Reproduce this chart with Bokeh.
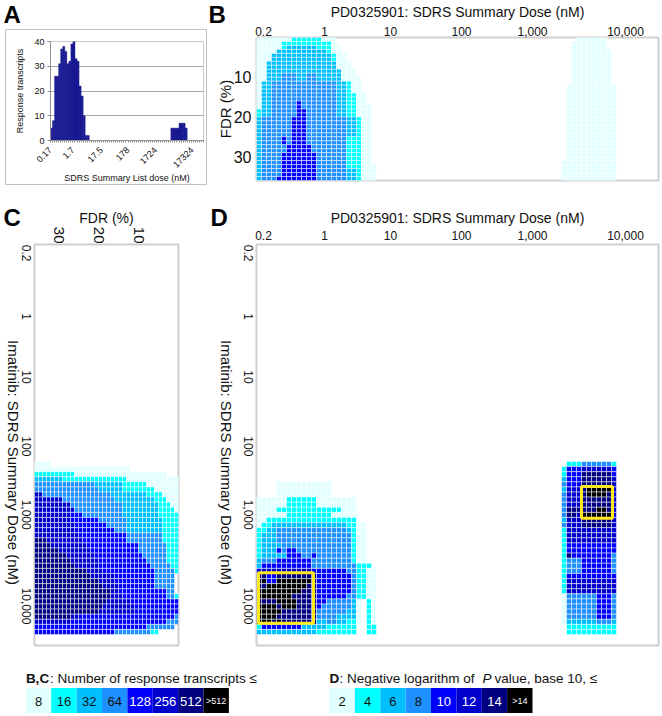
from math import pi
from bokeh.embed import file_html
from bokeh.resources import INLINE
from bokeh.plotting import figure
from bokeh.layouts import column, row
from bokeh.models import Range1d, FixedTicker, ColumnDataSource
from bokeh.core.properties import value

FONT = "Liberation Sans"

# ---------- data ----------
PALETTE = ["#E0FFFF", "#00FFFF", "#00BFFF", "#1E90FF", "#0000FF", "#0000CD", "#000080", "#000000"]
LEGEND_BC = ["8", "16", "32", "64", "128", "256", "512", ">512"]
LEGEND_D = ["2", "4", "6", "8", "10", "12", "14", ">14"]

DOSE_LABELS = ["0.2", "1", "10", "100", "1,000", "10,000"]
DOSE_TICKS = [1.4, 13.6, 26.8, 41, 55.2, 73.8]
DOSE_TICKS_Y = [4.7, 16.2, 28.7, 43.0, 57.4, 76.0]
FDR_TICKS = [10, 20, 30]

A_COUNTS = [5, 8, 26, 26, 31, 37, 38, 36, 31, 32, 39, 40, 33, 32, 22, 18, 10, 2, 2] + [0] * 40 + \
           [5, 5, 5, 5, 7, 7, 7, 5] + [0] * 8
A_TICKS = [0, 11, 25, 38, 51.5, 69.5]
A_LABELS = ["0.17", "1.7", "17.5", "178", "1724", "17324"]

# run-length rows: "level*count"; level 0 means no cell
B_LEFT = [
    "1*7 2*6 1*3",
    "1*5 2*10 1*1",
    "1*5 2*1 3*6 2*3 1*2",
    "1*4 3*10 2*1 1*2",
    "1*3 3*12 2*1 1*2",
    "1*3 3*12 2*1 1*2",
    "1*2 3*14 1*3",
    "1*2 3*14 1*3",
    "1*2 3*15 1*3",
    "1*2 3*3 4*3 3*2 4*2 3*5 1*3",
    "1*2 3*3 4*3 3*2 4*2 3*5 1*4",
    "1*1 3*2 4*13 3*2 2*1 1*2",
    "1*1 3*2 4*13 3*2 2*1 1*2",
    "1*1 3*2 4*13 3*2 2*1 1*2",
    "1*1 3*2 4*13 3*2 2*2 1*2",
    "1*1 3*2 4*13 3*2 2*2 1*2",
    "1*1 3*2 4*5 5*1 4*7 3*2 2*2 1*2",
    "1*1 3*2 4*5 5*1 4*7 3*2 2*2 1*3",
    "2*1 3*2 4*5 5*2 4*6 3*2 2*2 1*3",
    "2*1 3*2 4*5 5*2 4*6 3*2 2*2 1*3",
    "3*1 4*6 5*3 4*8 3*2 2*1 1*2",
    "3*1 4*6 5*3 4*8 3*2 2*1 1*2",
    "3*1 4*6 5*3 4*8 3*2 2*1 1*2",
    "3*1 4*6 5*3 4*8 3*2 2*1 1*2",
    "3*1 4*6 5*3 4*8 3*2 2*1 1*2",
    "3*1 4*4 5*1 4*1 5*3 4*8 2*3 1*2",
    "3*1 4*4 5*1 4*1 5*3 4*8 2*3 1*2",
    "3*1 4*5 5*5 4*7 2*3 1*2",
    "3*1 4*5 5*5 4*7 2*3 1*2",
    "3*1 4*4 5*7 4*6 2*3 1*2",
    "3*1 4*4 5*7 4*6 2*3 1*2",
    "3*1 4*4 5*7 4*6 2*3 1*2",
    "3*1 4*4 5*7 4*6 2*3 1*3",
    "3*1 4*4 5*7 4*6 3*2 2*1 1*3",
    "3*1 4*4 5*7 4*6 3*2 2*1 1*3",
    "3*1 4*3 5*8 4*6 3*2 2*1 1*3",
]
B_RIGHT_FIRST_COL = 61
B_RIGHT = (["0*3 1*6"] + ["0*2 1*7"] * 2 + ["0*2 1*8"] * 9 + ["0*1 1*10"] * 19 + ["1*11"] * 5)

C_FIRST_ROW = 44
C_ROWS = [
    "1*4",
    "1*24",
    "2*10 1*23",
    "3*7 2*16 1*13",
    "4*15 3*7 2*6 1*8",
    "4*16 3*6 2*8 1*6",
    "6*2 4*17 3*9 2*4 1*4",
    "6*7 4*13 3*10 2*3 1*3",
    "6*9 4*13 3*9 2*3 1*2",
    "6*10 4*12 3*9 2*4 1*1",
    "6*9 5*3 4*10 3*9 2*5",
    "6*9 5*7 4*7 3*9 2*4",
    "6*10 5*8 4*5 3*9 2*4",
    "6*10 5*10 4*3 3*9 2*4",
    "6*11 5*12 4*9 2*4",
    "7*3 6*9 5*11 4*9 2*4",
    "7*4 6*9 5*13 4*7 2*3",
    "7*6 6*8 5*12 4*7 2*3",
    "7*8 6*7 5*12 4*6 2*3",
    "7*9 6*7 5*12 4*5 2*3",
    "7*10 6*6 5*13 4*5 2*2",
    "7*13 6*4 5*13 4*5 2*1",
    "7*14 6*6 5*10 4*5",
    "7*16 6*4 5*10 4*5",
    "7*17 6*4 5*9 4*5",
    "7*19 6*2 5*12 4*2",
    "7*19 6*3 5*11 4*2 2*1",
    "7*18 6*6 5*12",
    "7*17 6*8 5*11",
    "7*16 6*9 5*11",
    "7*9 6*2 5*24 4*1",
    "6*9 5*24 4*3",
    "5*28 4*7",
    "5*20 4*9 2*2",
]

D_LEFT_FIRST_ROW = 48
D_LEFT = [
    "0*4 1*11",
    "0*4 1*11",
    "0*4 1*11",
    "1*6 2*6 1*8",
    "1*6 2*6 1*8",
    "1*4 2*13 1*3",
    "1*6 2*9 1*5",
    "1*2 2*18",
    "1*1 2*2 3*15 2*2 1*2",
    "2*2 3*2 4*14 3*1 2*1 1*2",
    "2*1 3*3 4*15 2*1 1*2",
    "2*1 3*3 4*15 2*1 1*2",
    "2*1 3*4 4*14 2*1 1*2",
    "2*1 3*3 5*1 4*1 5*2 4*11 2*1 1*2",
    "2*1 3*5 5*3 4*2 5*1 4*7 2*1 1*2",
    "3*1 4*3 5*7 4*8 2*1 1*2",
    "3*1 5*10 4*9 2*3",
    "5*1 6*10 5*7 4*2 2*2 1*2",
    "7*2 5*2 7*8 5*7 4*1 2*2 1*2",
    "7*1 8*1 5*2 8*7 7*1 5*7 4*1 2*2 1*2",
    "7*2 8*8 7*2 5*7 4*1 2*2 1*2",
    "8*9 7*3 5*7 4*1 2*2 1*2",
    "8*7 7*5 5*6 4*2 2*2 1*2",
    "7*4 8*4 7*4 5*2 4*5 3*1 1*1 0*1 2*1 1*1",
    "8*4 7*1 8*3 7*4 5*1 4*6 3*1 1*1 0*1 2*1 1*1",
    "8*5 7*7 4*6 3*2 1*1 0*1 2*1 1*1",
    "8*4 7*8 4*4 3*4 1*1 0*1 2*1 1*1",
    "8*3 7*1 8*1 7*7 3*2 4*2 3*2 2*2 1*1 0*1 2*1 1*1",
    "2*1 5*8 3*5 2*6 0*2 2*2",
    "3*12 2*8 0*2 2*2",
]
D_RIGHT_FIRST_ROW = 44
D_RIGHT_FIRST_COL = 61
D_RIGHT = [
    "0*1 2*3 4*6 2*1",
    "2*1 5*3 6*6 5*1",
    "2*1 5*3 7*6 5*1",
    "3*1 5*3 7*6 6*1",
    "4*1 5*3 7*6 6*1",
    "3*1 6*3 7*1 8*5 6*1",
    "4*1 6*3 7*1 8*4 7*1 6*1",
    "4*1 6*3 7*6 6*1",
    "4*1 6*3 7*6 6*1",
    "4*1 7*6 8*2 7*1 6*1",
    "4*1 7*2 6*1 8*6 6*1",
    "3*1 6*3 7*6 6*1",
    "4*1 6*3 7*6 6*1",
    "2*1 6*10",
    "2*1 6*10",
    "2*1 6*10",
    "2*1 5*10",
    "2*1 5*10",
    "2*1 7*1 5*8 4*1",
    "2*1 4*3 5*6 4*1",
    "2*1 4*3 5*6 4*1",
    "2*1 4*3 5*6 4*1",
    "2*1 5*10",
    "2*1 6*10",
    "2*1 6*10",
    "2*1 6*10",
    "1*1 4*6 5*3 4*1",
    "1*1 4*6 5*3 4*1",
    "1*1 4*6 5*3 4*1",
    "1*1 4*6 5*3 4*1",
    "1*1 4*6 5*3 4*1",
    "1*1 3*6 4*3 3*1",
    "0*1 2*10",
    "0*1 2*10",
]
# highlighted dose windows in panel D (left, right, top, bottom, in grid units)
HIGHLIGHT_L = [0.4, 65.0]
HIGHLIGHT_R = [11.4, 71.2]
HIGHLIGHT_T = [65.87, 48.9]
HIGHLIGHT_B = [75.77, 55.14]


def expand(r):
    out = []
    for tok in r.split():
        lv, n = tok.split("*")
        out += [int(lv)] * int(n)
    return out


def cells(rows, first_row=0, first_col=0):
    l, r, t, b, c = [], [], [], [], []
    for i, row_ in enumerate(rows):
        for j, lv in enumerate(expand(row_)):
            if lv:
                l.append(first_col + j); r.append(first_col + j + 1)
                t.append(first_row + i); b.append(first_row + i + 1)
                c.append(PALETTE[lv - 1])
    return dict(l=l, r=r, t=t, b=b, c=c)


def merged(*ds):
    return {k: sum((d[k] for d in ds), []) for k in ds[0]}


def draw(p, d, flip=False):
    if flip:
        d = dict(d, l=[36 - v for v in d["l"]], r=[36 - v for v in d["r"]])
    p.quad(left="l", right="r", top="t", bottom="b", fill_color="c",
           line_color="white", line_width=1, line_alpha=0.5, source=ColumnDataSource(d))


def base(width, height, left, right, top, bottom, xr, yr, xloc=None):
    p = figure(width=width, height=height, x_range=xr, y_range=yr, output_backend="svg",
               toolbar_location=None, tools="", min_border_left=left, min_border_right=right,
               min_border_top=top, min_border_bottom=bottom, x_axis_location=xloc,
               background_fill_color="white", border_fill_color="white", frame_align=False)
    p.grid.visible = False
    p.outline_line_color = "#cfcfcf"
    p.outline_line_width = 2
    return p


def style_axis(ax, ticks, labels, size, title=None, title_size="14px", title_standoff=4, standoff=3, orient=None):
    ax.ticker = FixedTicker(ticks=list(ticks))
    ax.major_label_overrides = {t: l for t, l in zip(ticks, labels)}
    ax.major_tick_line_color = None
    ax.minor_tick_line_color = None
    ax.axis_line_color = None
    ax.major_label_text_font = FONT
    ax.major_label_text_font_size = size
    ax.major_label_text_color = "#111111"
    ax.major_label_standoff = standoff
    ax.axis_label = title
    ax.axis_label_text_font = FONT
    ax.axis_label_text_font_style = "normal"
    ax.axis_label_text_font_size = title_size
    ax.axis_label_text_color = "#111111"
    ax.axis_label_standoff = title_standoff
    if orient is not None:
        ax.major_label_orientation = orient


PAGE_H = 716


def overlay(x, y, w, h, outline=None):
    """a transparent figure floating over the page at (x, y)"""
    p = figure(width=w, height=h, x_range=Range1d(0, w), y_range=Range1d(h, 0), output_backend="svg",
               toolbar_location=None, tools="", min_border=0, x_axis_location=None, y_axis_location=None,
               background_fill_alpha=0, border_fill_alpha=0, frame_align=False,
               margin=(y - PAGE_H, 0, PAGE_H - y - h, x))
    p.grid.visible = False
    p.outline_line_color = outline
    return p


def letter(t, x, cy):
    p = overlay(x - 2, cy - 18, 36, 36)
    p.text(x=[2], y=[18], text=[t], text_align="left", text_baseline="middle",
           text_font=value(FONT), text_font_size="24px", text_font_style="bold", text_color="#000000")
    return p


def vtitle(t, cx, cy, size):
    p = overlay(cx - 15, cy - 145, 30, 290)
    p.text(x=[15], y=[145], text=[t], angle=-pi / 2, text_align="center", text_baseline="middle",
           text_font=value(FONT), text_font_size=size, text_color="#111111")
    return p


TITLE = "PD0325901: SDRS Summary Dose (nM)"
YTITLE = "Imatinib: SDRS Summary Dose (nM)"

# ---------- A ----------
a = base(208, 190, 50, 5, 41, 50, Range1d(0, 75), Range1d(0, 40), "below")
a.outline_line_color = "#c8c8c8"
a.outline_line_width = 1
a.ygrid.visible = True
a.ygrid.grid_line_color = "#a8a8a8"
a.ygrid.ticker = FixedTicker(ticks=[10, 20, 30, 40])
a.vbar(x=[i + 0.5 for i in range(len(A_COUNTS))], top=A_COUNTS, width=1, fill_color="#1f1f9e",
       line_color="#000070", line_width=0.5, line_alpha=0.8)
ax = a.xaxis[0]
style_axis(ax, A_TICKS, A_LABELS, "9px", "SDRS Summary List dose (nM)", "9px", 0, 2, pi / 4)
ax.ticker = FixedTicker(ticks=A_TICKS, minor_ticks=list(range(0, 76)))
ax.axis_line_color = "#909090"
ax.minor_tick_line_color = "#909090"
ax.minor_tick_in = 0
ax.minor_tick_out = 2
ay = a.yaxis[0]
style_axis(ay, [0, 10, 20, 30, 40], ["0", "10", "20", "30", "40"], "9px", "Response transcripts", "9px", 6, 3)
ay.major_tick_line_color = "#909090"
ay.major_tick_in = 0
ay.major_tick_out = 3
ay.axis_line_color = "#909090"

# ---------- B ----------
b = base(454, 190, 48, 4, 36, 10, Range1d(0, 80.4), Range1d(36, 0), "above")
draw(b, merged(cells(B_LEFT), cells(B_RIGHT, 0, B_RIGHT_FIRST_COL)))
style_axis(b.xaxis[0], DOSE_TICKS, DOSE_LABELS, "12px", TITLE, "14px", 4, -4)
style_axis(b.yaxis[0], FDR_TICKS, [str(v) for v in FDR_TICKS], "16px", "FDR (%)", "15px", -3, -1)

# ---------- C ----------
c = base(208, 460, 34, 30, 54, 5, Range1d(36, 0), Range1d(80.15, 1.37), "above")
draw(c, cells(C_ROWS, C_FIRST_ROW), flip=True)
style_axis(c.xaxis[0], FDR_TICKS, [str(v) for v in FDR_TICKS], "15px", "FDR (%)", "14px", -2, -5, -pi / 2)
style_axis(c.yaxis[0], DOSE_TICKS_Y, DOSE_LABELS, "12px", None, "14px", 0, 2, -pi / 2)

# ---------- D ----------
d = base(454, 460, 48, 4, 54, 5, Range1d(0, 80.4), Range1d(80.15, 1.37), "above")
draw(d, merged(cells(D_LEFT, D_LEFT_FIRST_ROW), cells(D_RIGHT, D_RIGHT_FIRST_ROW, D_RIGHT_FIRST_COL)))
d.quad(left=HIGHLIGHT_L, right=HIGHLIGHT_R, top=HIGHLIGHT_T, bottom=HIGHLIGHT_B, fill_alpha=0,
       line_color="#FFE81F", line_width=3)
style_axis(d.xaxis[0], DOSE_TICKS, DOSE_LABELS, "12px", TITLE, "14px", 2, -1)
style_axis(d.yaxis[0], DOSE_TICKS_Y, DOSE_LABELS, "12px", None, "14px", 0, 2, -pi / 2)


# ---------- legends ----------
CELL_W = 25.375
CELL_H = 25.1


def legend(width, left, labels, captions):
    p = figure(width=width, height=66, x_range=Range1d(-left / CELL_W, (width - left) / CELL_W),
               y_range=Range1d(-3.4 / CELL_H, 62.6 / CELL_H), output_backend="svg", frame_align=False,
               toolbar_location=None, tools="", min_border=0, x_axis_location=None, y_axis_location=None)
    p.grid.visible = False
    p.outline_line_color = None
    xs = list(range(8))
    p.quad(left=xs, right=[v + 1 for v in xs], bottom=0, top=1, fill_color=PALETTE, line_color=None)
    cols = ["#111111"] * 4 + ["white"] * 4
    big = xs[:7]
    p.text(x=[i + 0.5 for i in big], y=[0.48] * 7, text=[labels[i] for i in big],
           text_color=[cols[i] for i in big], text_align="center", text_baseline="middle",
           text_font=value(FONT), text_font_size="13px")
    p.text(x=[7.5], y=[0.5], text=[labels[7]], text_color=["white"], text_align="center", text_baseline="middle",
           text_font=value(FONT), text_font_size="9px")
    pos = 0.0
    for t, style, w in captions:
        p.text(x=[pos / CELL_W], y=[1.38], text=[t], text_align="left", text_baseline="alphabetic",
               text_font=value(FONT), text_font_size="13.5px", text_font_style=style, text_color="#111111")
        pos += w
    return p


l1 = legend(300, 25.375, LEGEND_BC, [("B,C", "bold", 24), (": Number of response transcripts ≤", "normal", 0)])
l2 = legend(362, 29, LEGEND_D, [("D", "bold", 10), (": Negative logarithm of", "normal", 143), ("P", "italic", 12),
                                ("value, base 10, ≤", "normal", 0)])

box_a = overlay(5, 29, 202, 156, outline="#c0c0c0")

page = column(
    row(a, b, spacing=0), row(c, d, spacing=0), row(l1, l2, spacing=0),
    box_a,
    letter("A", 3, 14),
    letter("B", 208, 14),
    letter("C", 3, 217),
    letter("D", 210, 217),
    vtitle(YTITLE, 13, 462, "15px"),
    vtitle(YTITLE, 226, 462, "15px"),
    spacing=0,
)
open("out.html", "w").write(file_html(page, INLINE))
